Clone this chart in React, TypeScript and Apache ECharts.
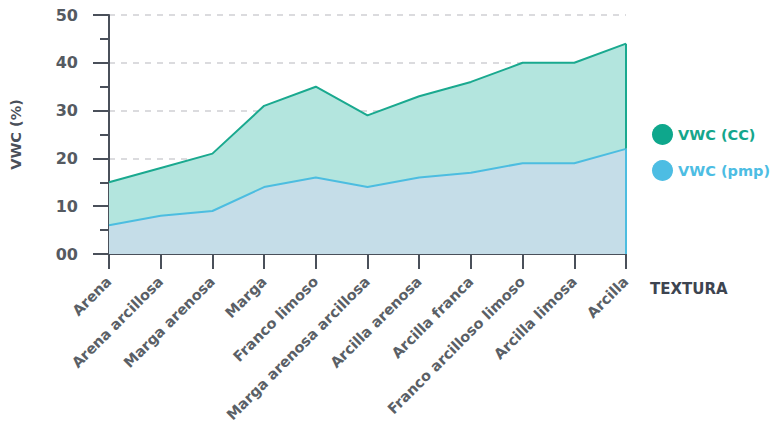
import React, { useEffect, useRef } from "react";
import * as echarts from "echarts";

const categories = [
  "Arena",
  "Arena arcillosa",
  "Marga arenosa",
  "Marga",
  "Franco limoso",
  "Marga arenosa arcillosa",
  "Arcilla arenosa",
  "Arcilla franca",
  "Franco arcilloso limoso",
  "Arcilla limosa",
  "Arcilla",
];
const vwcCC = [15, 18, 21, 31, 35, 29, 33, 36, 40, 40, 44];
const vwcPmp = [6, 8, 9, 14, 16, 14, 16, 17, 19, 19, 22];
const seriesNames = ["VWC (CC)", "VWC (pmp)"];
const yTicks = { min: 0, max: 50, interval: 10 };

const FONT = "'DejaVu Sans', 'Noto Sans', sans-serif";
const CC_LINE = "#1aa98f";
const CC_FILL = "#b3e5de";
const PMP_LINE = "#4cbde0";
const PMP_FILL = "#c5dde8";
const AXIS = "#4a505a";

export default function App() {
  const ref = useRef<HTMLDivElement>(null);
  useEffect(() => {
    if (!ref.current) return;
    const chart = echarts.init(ref.current, undefined, { renderer: "svg" });
    const last = categories.length - 1;
    chart.setOption({
      animation: false,
      grid: { left: 108, right: 156, top: 15, bottom: 176 },
      legend: {
        orient: "vertical",
        left: 647,
        top: 119,
        itemWidth: 21,
        itemHeight: 21,
        itemGap: 15,
        icon: "circle",
        data: [
          { name: seriesNames[0], itemStyle: { color: "#0ea78c" }, textStyle: { color: "#15a68c" } },
          { name: seriesNames[1], itemStyle: { color: "#4dbde3" }, textStyle: { color: "#4dbde3" } },
        ],
        textStyle: { fontFamily: FONT, fontSize: 14.5, fontWeight: "bold" },
      },
      xAxis: {
        type: "category",
        data: categories,
        boundaryGap: false,
        axisLine: { lineStyle: { color: AXIS, width: 2 } },
        axisTick: { show: true, length: 15, lineStyle: { color: AXIS, width: 2 } },
        axisLabel: {
          rotate: 45,
          margin: 25,
          interval: 0,
          color: "#5a5f66",
          fontFamily: FONT,
          fontSize: 14.5,
          fontWeight: "bold",
        },
        splitLine: { show: false },
      },
      yAxis: {
        type: "value",
        min: yTicks.min,
        max: yTicks.max,
        interval: yTicks.interval,
        name: "VWC (%)",
        nameLocation: "middle",
        nameGap: 86,
        nameTextStyle: { color: "#4a505a", fontFamily: FONT, fontSize: 14.5, fontWeight: "bold" },
        axisLine: { show: true, lineStyle: { color: AXIS, width: 2 } },
        axisTick: { show: true, length: 16, lineStyle: { color: AXIS, width: 2 } },
        minorTick: { show: true, splitNumber: 2, length: 9, lineStyle: { color: AXIS, width: 2 } },
        axisLabel: {
          margin: 31,
          color: "#555a61",
          fontFamily: FONT,
          fontSize: 16,
          fontWeight: "bold",
          formatter: (v: number) => (v === 0 ? "00" : String(v)),
        },
        splitLine: { show: true, lineStyle: { color: "#cfcfd3", type: [6, 6], width: 1.5 } },
      },
      series: [
        {
          name: seriesNames[0],
          type: "line",
          data: vwcCC,
          symbol: "none",
          lineStyle: { color: CC_LINE, width: 2 },
          itemStyle: { color: CC_LINE },
          areaStyle: { color: CC_FILL, opacity: 1 },
          z: 2,
          markLine: {
            silent: true,
            symbol: "none",
            label: { show: false },
            lineStyle: { color: CC_LINE, width: 2, type: "solid" },
            data: [[{ coord: [last, vwcCC[last]] }, { coord: [last, vwcPmp[last]] }]],
          },
        },
        {
          name: seriesNames[1],
          type: "line",
          data: vwcPmp,
          symbol: "none",
          lineStyle: { color: PMP_LINE, width: 2 },
          itemStyle: { color: PMP_LINE },
          areaStyle: { color: PMP_FILL, opacity: 1 },
          z: 3,
          markLine: {
            silent: true,
            symbol: "none",
            label: { show: false },
            lineStyle: { color: PMP_LINE, width: 2, type: "solid" },
            data: [[{ coord: [last, vwcPmp[last]] }, { coord: [last, 0] }]],
          },
        },
      ],
      graphic: [
        {
          type: "text",
          left: 650,
          top: 281,
          style: {
            text: "TEXTURA",
            fill: "#3d4450",
            fontFamily: FONT,
            fontSize: 15,
            fontWeight: "bold",
          },
        },
      ],
    });
    return () => chart.dispose();
  }, []);
  return (
    <div
      ref={ref}
      style={{ position: "absolute", left: 0, top: 0, width: 782, height: 430, background: "#fff" }}
    />
  );
}
